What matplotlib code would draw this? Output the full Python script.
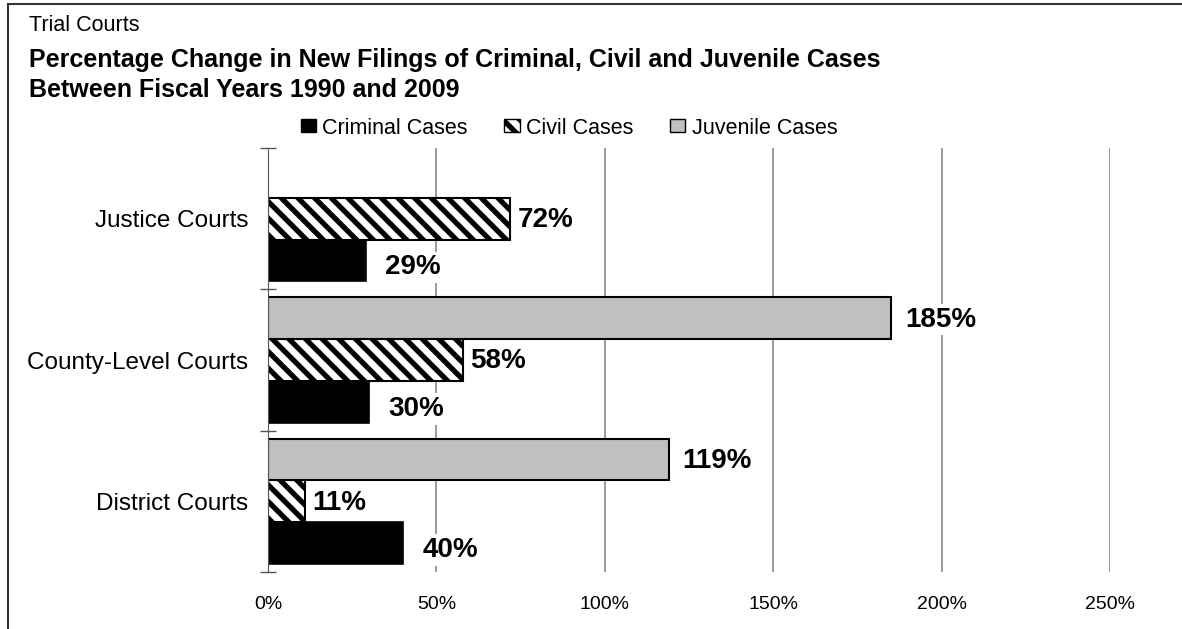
import matplotlib.pyplot as plt
import numpy as np
from matplotlib.patches import Patch
from matplotlib.lines import Line2D
from matplotlib.ticker import FuncFormatter, FixedLocator

plt.rcParams['font.family'] = ['Liberation Sans', 'DejaVu Sans']
plt.rcParams['hatch.linewidth'] = 3.8

# data (percent change, FY1990 -> FY2009)
courts = ['District Courts', 'County-Level Courts', 'Justice Courts']
criminal = [40, 30, 29]
civil = [11, 58, 72]
juvenile = [119, 185, np.nan]   # no juvenile cases in justice courts
series_names = ['Criminal Cases', 'Civil Cases', 'Juvenile Cases']
x_ticks = [0, 50, 100, 150, 200, 250]

fig = plt.figure(figsize=(11.82, 6.29), dpi=100)
ax = fig.add_axes([268 / 1182, 1 - 572 / 629, (1110 - 268) / 1182, (572 - 148) / 629])

y = np.arange(len(courts))
h = 0.296
styles = [
    dict(color='black', edgecolor='black', linewidth=1.2),
    dict(color='white', edgecolor='black', hatch='\\\\', linewidth=1.5),
    dict(color='#c0c0c0', edgecolor='black', linewidth=1.5),
]
offsets = [-h, 0, h]
label_dx = [14, 5, 10]
label_dy = [-5, -1, -1]

for vals, off, st, dx, dy in zip([criminal, civil, juvenile], offsets, styles, label_dx, label_dy):
    vals = np.array(vals, dtype=float)
    ok = ~np.isnan(vals)
    ax.barh(y[ok] + off, vals[ok], height=h, zorder=3, **st)
    for yi, v in zip(y[ok] + off, vals[ok]):
        ax.annotate(f'{v:.0f}%', (v, yi), xytext=(dx, dy),
                    textcoords='offset points', ha='left', va='center',
                    fontsize=20, fontweight='bold', zorder=5,
                    bbox=dict(boxstyle='square,pad=0.1', fc='white', ec='none'))

ax.set_xlim(0, 250)
ax.set_ylim(-0.5, 2.5)
ax.set_xticks(x_ticks)
ax.xaxis.set_major_formatter(FuncFormatter(lambda v, p: f'{v:.0f}%'))
ax.tick_params(axis='x', length=0, pad=17, labelsize=14)
ax.grid(axis='x', color='#808080', linewidth=1.1, zorder=0)

# category boundaries get cross ticks, names sit between them
ax.yaxis.set_major_locator(FixedLocator([-0.5, 0.5, 1.5, 2.5]))
ax.yaxis.set_minor_locator(FixedLocator(list(y)))
ax.yaxis.set_major_formatter(FuncFormatter(lambda v, p: ''))
ax.set_yticklabels(courts, minor=True)
ax.tick_params(axis='y', which='major', direction='inout', length=12, width=1, color='#555555')
ax.tick_params(axis='y', which='minor', length=0, pad=14, labelsize=17.5)

for s in ['top', 'right', 'bottom']:
    ax.spines[s].set_visible(False)
ax.spines['left'].set_color('#555555')
ax.spines['left'].set_zorder(4)

# titles
fig.text(29 / 1182, 1 - 31 / 629, 'Trial Courts', fontsize=15.5, va='baseline')
fig.text(29 / 1182, 1 - 67 / 629,
         'Percentage Change in New Filings of Criminal, Civil and Juvenile Cases',
         fontsize=18, fontweight='bold', va='baseline')
fig.text(29 / 1182, 1 - 97 / 629, 'Between Fiscal Years 1990 and 2009',
         fontsize=18, fontweight='bold', va='baseline')

handles = [Patch(facecolor='black', edgecolor='black'),
           Patch(facecolor='white', edgecolor='black', hatch='\\\\', linewidth=1),
           Patch(facecolor='#c0c0c0', edgecolor='black', linewidth=1)]
fig.legend(handles, series_names, loc='center', bbox_to_anchor=(569 / 1182, 1 - 128 / 629),
           ncol=3, frameon=False, fontsize=15.5, handlelength=0.7, handleheight=0.55,
           handletextpad=0.3, columnspacing=1.7, borderpad=0)

# outer frame (only left and top edges are visible in the crop)
fig.add_artist(Line2D([8 / 1182, 8 / 1182], [0, 1 - 4 / 629], transform=fig.transFigure,
                      color='#333333', linewidth=1.5))
fig.add_artist(Line2D([8 / 1182, 1], [1 - 4 / 629, 1 - 4 / 629], transform=fig.transFigure,
                      color='#333333', linewidth=1.5))

fig.savefig('out.png', dpi=100)
